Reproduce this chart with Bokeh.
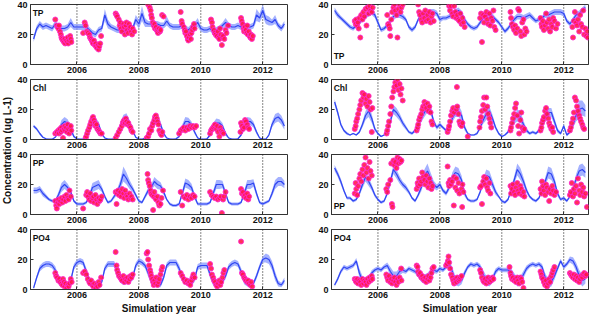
import math
from bokeh.plotting import figure
from bokeh.models import Range1d, FixedTicker, Span, Label
from bokeh.layouts import row, column
from bokeh.embed import file_html
from bokeh.resources import INLINE
from bokeh.core.properties import value

FONT = "Liberation Sans"

# ---------------- data ----------------
year_ticks = [2006, 2008, 2010, 2012]
y_ticks = [0, 20, 40]
panel_names = ["TP", "Chl", "PP", "PO4"]
y_label = "Concentration (ug L-1)"
x_label = "Simulation year"

# model time grid (decimal years, 2004.6 ... 2012.7)
t_model = [round(2004.6 + 0.1 * k, 1) for k in range(82)]

# ---- left column: model median and band half-width ----
tpL_med = [17, 24, 27, 25,
           26, 25, 24, 27, 25, 24, 24, 25, 28, 25,
           25, 25, 25, 25, 23, 21, 20, 23, 24, 33,
           27, 25, 24, 23, 23, 22, 23, 24, 24, 30,
           27, 34, 28, 27, 27, 27, 27, 26, 26, 29,
           26, 25, 25, 25, 26, 24, 23, 25, 26, 28,
           24, 23, 23, 24, 22, 23, 24, 26, 28, 26,
           25, 25, 26, 25, 26, 25, 25, 26, 33, 31,
           36, 30, 29, 28, 30, 26, 24, 27]
tpL_sd = [2, 2, 2, 2,
          2, 2, 2, 2, 2, 2, 2, 2, 3, 2,
          2, 2, 2, 2, 2, 2, 2, 2, 2, 4,
          3, 2, 2, 2, 2, 2, 2, 2, 2, 3,
          3, 5, 3, 2, 2, 2, 2, 2, 2, 3,
          2, 2, 2, 2, 2, 2, 2, 2, 2, 3,
          2, 2, 2, 2, 2, 2, 2, 2, 3, 2,
          2, 2, 2, 2, 2, 2, 2, 2, 4, 3,
          4, 3, 3, 2, 3, 2, 2, 2]

chlL_med = [9, 7, 4, 1.5,
            0.5, 0.2, 0.2, 1.5, 5, 10, 12, 11, 7, 2,
            0.5, 0.2, 0.2, 2, 6, 11, 12, 10, 4, 1,
            0.3, 0.2, 0.5, 3, 9, 14, 15, 11, 6, 1.5,
            0.3, 0.2, 1, 4, 10, 13, 13, 10, 4, 1,
            0.3, 0.2, 0.5, 2, 8, 12, 12, 10, 5, 1,
            0.3, 0.2, 0.5, 3, 9, 11, 11, 9, 4, 1,
            0.3, 0.2, 0.5, 3, 8, 12, 12, 10, 5, 1,
            0.3, 0.2, 3, 10, 14, 15, 13, 9]
chlL_sd = [1, 1, 1, 0.5,
           0.3, 0.2, 0.2, 0.5, 1.5, 3, 3, 2.5, 2, 1,
           0.3, 0.2, 0.2, 1, 2, 2.5, 2.5, 2, 1.5, 0.5,
           0.3, 0.2, 0.3, 1, 2, 2.5, 2.5, 2, 1.5, 0.5,
           0.3, 0.2, 0.5, 1, 2, 3, 3, 2, 1.5, 0.5,
           0.3, 0.2, 0.3, 1, 2, 3, 2.5, 2, 1.5, 0.5,
           0.3, 0.2, 0.3, 1, 2, 3, 2.5, 2, 1.5, 0.5,
           0.3, 0.2, 0.3, 1, 2, 3, 2.5, 2, 1.5, 0.5,
           0.3, 0.2, 1, 2, 3, 3, 3, 2.5]

ppL_med = [16, 16, 17, 14,
           12, 10, 9, 9, 13, 18, 20, 18, 15, 9,
           7, 7, 7, 8, 12, 18, 19, 20, 17, 12,
           8, 9, 12, 15, 20, 27, 24, 20, 17, 13,
           9, 8, 12, 16, 18, 22, 20, 19, 15, 10,
           7, 6, 6, 7, 14, 21, 20, 18, 12, 7,
           7, 7, 7, 8, 14, 20, 20, 20, 14, 8,
           7, 7, 7, 8, 14, 20, 20, 21, 14, 8,
           7, 8, 9, 14, 20, 22, 22, 20]
ppL_sd = [2, 2, 2, 2,
          1.5, 1, 1, 1, 2, 3, 3, 2.5, 2, 1,
          1, 1, 1, 1, 2, 3, 3, 3, 2, 1.5,
          1, 1, 1.5, 2, 3, 5, 4, 3, 2, 1.5,
          1, 1, 1.5, 2, 2, 3, 3, 2.5, 2, 1,
          1, 1, 1, 1, 2, 3, 3, 2.5, 2, 1,
          1, 1, 1, 1, 2, 3, 3, 2.5, 2, 1,
          1, 1, 1, 1, 2, 3, 3, 2.5, 2, 1,
          1, 1, 1, 2, 3, 3, 3, 2.5]

po4L_med = [1, 8, 14, 16,
            17, 17, 16, 13, 7, 4, 3, 3, 6, 15,
            18, 19, 18, 12, 6, 3, 2, 2, 5, 14,
            17, 17, 17, 12, 7, 5, 5, 6, 8, 16,
            19, 18, 16, 11, 6, 4, 3, 3, 8, 16,
            18, 18, 18, 14, 8, 5, 4, 4, 7, 15,
            16, 16, 16, 10, 5, 3, 3, 5, 9, 15,
            17, 18, 17, 12, 6, 4, 3, 4, 9, 15,
            20, 21, 20, 16, 9, 4, 3, 6]
po4L_sd = [1, 1.5, 2, 2,
           2, 2, 2, 2.5, 2.5, 2, 1.5, 1.5, 2, 2,
           2, 2, 2, 2.5, 2.5, 2, 1.5, 1.5, 2, 2,
           2, 2, 2, 2.5, 2.5, 2, 1.5, 1.5, 2, 2,
           2, 2, 2, 2.5, 2.5, 2, 1.5, 1.5, 2, 2,
           2, 2, 2, 2.5, 2.5, 2, 1.5, 1.5, 2, 2,
           2, 2, 2, 2.5, 2.5, 2, 1.5, 1.5, 2, 2,
           2, 2, 2, 2.5, 2.5, 2, 1.5, 1.5, 2, 2,
           2, 3, 3, 3, 3, 2, 1.5, 2]

# ---- right column: model median and band half-width ----
tpR_med = [36, 33, 31, 29,
           27, 25, 24, 26, 28, 30, 32, 34, 35, 33,
           28, 23, 24, 26, 29, 32, 33, 33, 32, 30,
           25, 23, 25, 30, 33, 33, 34, 35, 35, 34,
           30, 31, 31, 32, 33, 35, 36, 34, 30, 27,
           25, 24, 25, 28, 31, 33, 33, 32, 30, 28,
           25, 22, 24, 27, 30, 32, 32, 31, 32, 33,
           31, 29, 30, 31, 33, 33, 34, 35, 35, 35,
           34, 29, 27, 30, 33, 34, 36, 38]
tpR_sd = [2, 2, 1.5, 1.5,
          1.5, 1.5, 1.5, 1.5, 1.5, 1.5, 1.5, 2, 2, 2,
          2, 1.5, 1.5, 1.5, 1.5, 2, 2, 2, 2, 1.5,
          1.5, 1.5, 1.5, 1.5, 2, 2, 2, 2, 2, 2,
          2, 1.5, 1.5, 1.5, 2, 2, 2, 2, 1.5, 1.5,
          1.5, 1.5, 1.5, 1.5, 2, 2, 2, 2, 1.5, 1.5,
          1.5, 1.5, 1.5, 1.5, 2, 2, 2, 2, 2, 2,
          2, 1.5, 1.5, 1.5, 2, 2, 2, 2, 2, 2,
          2, 1.5, 1.5, 1.5, 2, 2, 2, 2]

chlR_med = [25, 18, 10, 6,
            4, 3, 4, 3, 5, 10, 16, 19, 14, 7,
            4, 2, 3, 6, 12, 20, 18, 15, 11, 8,
            5, 4, 6, 10, 14, 18, 21, 20, 12, 8,
            10, 8, 6, 8, 14, 18, 19, 16, 8, 4,
            3, 3, 4, 8, 13, 17, 19, 14, 8, 4,
            2, 3, 5, 9, 13, 16, 15, 10, 6, 4,
            5, 4, 6, 10, 14, 18, 18, 12, 6, 4,
            9, 3, 5, 10, 16, 20, 21, 19]
chlR_sd = [2, 2, 1.5, 1,
           1, 0.5, 0.5, 0.5, 1, 2, 3, 4, 3, 1.5,
           1, 0.5, 0.5, 1, 2, 3, 3, 2.5, 2, 1.5,
           1, 1, 1, 2, 2.5, 3, 3, 3, 2, 1.5,
           1.5, 1, 1, 1.5, 2.5, 3, 4, 3, 2, 1,
           0.5, 0.5, 1, 1.5, 2.5, 4, 3, 2.5, 1.5, 1,
           0.5, 0.5, 1, 1.5, 2.5, 4, 4, 2.5, 1.5, 1,
           1, 1, 1, 2, 2.5, 3, 3, 2.5, 1.5, 1,
           1.5, 1, 1, 2, 4, 6, 5, 4]

ppR_med = [31, 27, 22, 16,
           11, 11, 9, 10, 14, 20, 25, 22, 18, 13,
           10, 8, 9, 14, 22, 30, 27, 23, 20, 18,
           15, 11, 9, 13, 18, 26, 29, 24, 20, 18,
           20, 16, 14, 18, 25, 28, 27, 23, 14, 10,
           9, 9, 10, 15, 22, 26, 25, 20, 15, 12,
           9, 8, 10, 16, 23, 30, 27, 22, 16, 12,
           10, 9, 11, 16, 22, 28, 27, 22, 14, 10,
           11, 9, 12, 17, 24, 29, 30, 28]
ppR_sd = [2, 2, 2, 1.5,
          1, 1, 1, 1, 1.5, 2.5, 3, 3, 2, 1.5,
          1, 1, 1, 1.5, 2.5, 3, 3, 2.5, 2, 2,
          1.5, 1, 1, 1.5, 2.5, 4, 5, 4, 2.5, 2,
          2, 1.5, 1.5, 2, 3, 4, 4, 3, 2, 1,
          1, 1, 1, 1.5, 2.5, 4, 4, 3, 2, 1,
          1, 1, 1, 1.5, 2.5, 4, 4, 3, 2, 1,
          1, 1, 1, 1.5, 2.5, 4, 4, 3, 2, 1,
          1, 1, 1, 1.5, 3, 4, 4, 3.5]

po4R_med = [3, 7, 12, 15,
            14, 15, 16, 19, 11, 6, 5, 6, 11, 13,
            14, 13, 15, 16, 12, 9, 9, 12, 13, 12,
            14, 13, 12, 10, 8, 7, 8, 11, 13, 12,
            14, 13, 15, 17, 12, 6, 5, 6, 11, 15,
            17, 16, 17, 15, 10, 6, 5, 7, 12, 14,
            13, 13, 13, 12, 8, 5, 6, 10, 14, 16,
            17, 16, 17, 15, 8, 4, 5, 9, 14, 19,
            15, 17, 20, 19, 15, 9, 6, 7]
po4R_sd = [1, 1.5, 1.5, 1.5,
           1.5, 1.5, 1.5, 2, 3, 3, 3, 3, 2, 1.5,
           1.5, 1.5, 1.5, 2, 3, 3, 3, 2.5, 2, 1.5,
           1.5, 1.5, 1.5, 2, 3, 3, 3, 2.5, 2, 1.5,
           1.5, 1.5, 1.5, 2, 3, 3, 3, 2.5, 2, 1.5,
           1.5, 1.5, 1.5, 2, 3, 3, 3, 2.5, 2, 1.5,
           1.5, 1.5, 1.5, 2, 3, 3, 3, 2.5, 2, 1.5,
           1.5, 1.5, 1.5, 2, 3, 3, 3, 2.5, 2, 1.5,
           1.5, 1.5, 2, 2.5, 3, 4, 4, 3]

# ---- observations (decimal year, value) ----
tpL_obs = [(2005.30, 30), (2005.35, 26), (2005.38, 25), (2005.40, 24), (2005.42, 26), (2005.45, 22), (2005.48, 20),
           (2005.50, 18), (2005.52, 17), (2005.55, 16), (2005.58, 15), (2005.60, 17), (2005.62, 14), (2005.65, 16),
           (2005.68, 15), (2005.70, 18), (2005.72, 14), (2005.75, 16), (2005.78, 19), (2005.80, 17), (2005.82, 15),
           (2006.20, 21), (2006.25, 28), (2006.28, 26), (2006.32, 22), (2006.35, 21), (2006.40, 20), (2006.42, 18),
           (2006.45, 17), (2006.48, 16), (2006.50, 15), (2006.52, 14), (2006.55, 16), (2006.58, 13), (2006.60, 14),
           (2006.62, 12), (2006.65, 11), (2006.68, 13), (2006.70, 10), (2006.72, 12), (2006.75, 14), (2006.78, 19),
           (2007.25, 34), (2007.28, 33), (2007.30, 32), (2007.35, 30), (2007.38, 26), (2007.40, 28), (2007.42, 24),
           (2007.45, 22), (2007.50, 27), (2007.52, 25), (2007.55, 20), (2007.58, 26), (2007.60, 28), (2007.62, 23),
           (2007.65, 21), (2007.68, 27), (2007.70, 24), (2007.72, 25), (2007.75, 22), (2007.78, 20), (2007.80, 24),
           (2007.85, 22),
           (2008.30, 40), (2008.35, 38), (2008.38, 36), (2008.40, 33), (2008.42, 31), (2008.45, 28), (2008.48, 26),
           (2008.50, 27), (2008.52, 24), (2008.55, 25), (2008.58, 23), (2008.60, 22), (2008.62, 21), (2008.65, 24),
           (2008.68, 22), (2008.70, 23), (2008.75, 33), (2008.80, 32),
           (2009.35, 35), (2009.38, 29), (2009.40, 27), (2009.45, 25), (2009.48, 23), (2009.50, 21), (2009.52, 22),
           (2009.55, 19), (2009.58, 17), (2009.60, 16), (2009.62, 18), (2009.65, 20), (2009.68, 17), (2009.70, 21),
           (2009.72, 23), (2009.75, 25), (2009.78, 27), (2009.80, 24),
           (2010.33, 30), (2010.36, 28), (2010.38, 25), (2010.42, 23), (2010.45, 21), (2010.48, 20), (2010.52, 19),
           (2010.55, 22), (2010.58, 18), (2010.60, 17), (2010.62, 24), (2010.65, 20), (2010.68, 13), (2010.70, 18),
           (2010.72, 19), (2010.76, 17), (2010.80, 23), (2010.83, 21), (2010.88, 26),
           (2011.30, 31), (2011.32, 29), (2011.35, 27), (2011.38, 24), (2011.40, 22), (2011.42, 25), (2011.45, 23),
           (2011.48, 21), (2011.50, 26), (2011.52, 20), (2011.55, 22), (2011.58, 19), (2011.60, 18), (2011.62, 20),
           (2011.65, 17), (2011.68, 19)]

chlL_obs = [(2005.30, 4), (2005.35, 5), (2005.40, 6), (2005.42, 4), (2005.45, 7), (2005.48, 5), (2005.50, 8),
            (2005.52, 6), (2005.55, 1), (2005.58, 7), (2005.60, 9), (2005.62, 6), (2005.65, 8), (2005.68, 5),
            (2005.70, 10), (2005.72, 7), (2005.75, 4), (2005.78, 8), (2005.80, 9), (2005.82, 6),
            (2006.28, 1), (2006.30, 2), (2006.33, 4), (2006.36, 6), (2006.40, 8), (2006.43, 10), (2006.46, 12),
            (2006.50, 14), (2006.52, 15), (2006.55, 13), (2006.58, 11), (2006.60, 9), (2006.63, 10), (2006.66, 7),
            (2006.70, 6), (2006.73, 5), (2006.76, 4), (2006.80, 4),
            (2007.25, 1), (2007.30, 3), (2007.35, 5), (2007.40, 7), (2007.45, 9), (2007.48, 11), (2007.50, 12),
            (2007.53, 13), (2007.55, 11), (2007.58, 14), (2007.60, 12), (2007.63, 10), (2007.66, 11), (2007.70, 9),
            (2007.73, 8), (2007.76, 6), (2007.80, 5),
            (2008.25, 1), (2008.30, 2), (2008.33, 4), (2008.36, 7), (2008.40, 6), (2008.43, 9), (2008.46, 11),
            (2008.50, 13), (2008.52, 15), (2008.55, 16), (2008.58, 14), (2008.60, 12), (2008.63, 10), (2008.66, 6),
            (2008.70, 4), (2008.73, 3), (2008.76, 5),
            (2009.30, 4), (2009.35, 6), (2009.40, 7), (2009.45, 8), (2009.50, 6), (2009.55, 8), (2009.60, 7),
            (2009.65, 9), (2009.70, 8), (2009.75, 9), (2009.80, 8), (2009.85, 9),
            (2010.30, 4), (2010.33, 6), (2010.36, 7), (2010.40, 8), (2010.43, 9), (2010.46, 10), (2010.50, 7),
            (2010.53, 9), (2010.56, 5), (2010.60, 2), (2010.63, 8), (2010.66, 6), (2010.70, 5), (2010.73, 4),
            (2011.28, 5), (2011.30, 11), (2011.33, 9), (2011.36, 7), (2011.40, 8), (2011.43, 13), (2011.46, 12),
            (2011.50, 10), (2011.53, 8), (2011.56, 7)]

ppL_obs = [(2005.30, 9), (2005.33, 6), (2005.35, 4), (2005.38, 8), (2005.40, 10), (2005.43, 7), (2005.46, 9),
           (2005.50, 11), (2005.53, 8), (2005.56, 10), (2005.60, 12), (2005.63, 9), (2005.66, 13), (2005.70, 11),
           (2005.73, 10), (2005.76, 16), (2005.80, 12),
           (2006.20, 4), (2006.30, 13), (2006.33, 15), (2006.36, 12), (2006.40, 10), (2006.43, 14), (2006.46, 9),
           (2006.50, 11), (2006.53, 12), (2006.56, 8), (2006.60, 13), (2006.63, 10), (2006.66, 7), (2006.70, 11),
           (2006.73, 9), (2006.76, 10), (2006.80, 12),
           (2007.25, 15), (2007.28, 7), (2007.30, 14), (2007.33, 16), (2007.36, 13), (2007.40, 15), (2007.43, 12),
           (2007.46, 17), (2007.50, 14), (2007.53, 11), (2007.56, 16), (2007.60, 13), (2007.63, 12), (2007.66, 10),
           (2007.70, 14), (2007.73, 11), (2007.76, 12), (2007.80, 10),
           (2008.28, 27), (2008.30, 23), (2008.32, 21), (2008.35, 19), (2008.38, 16), (2008.40, 14), (2008.43, 13),
           (2008.46, 3), (2008.48, 12), (2008.50, 15), (2008.53, 11), (2008.56, 10), (2008.60, 12), (2008.63, 8),
           (2008.66, 6), (2008.70, 7), (2008.73, 11), (2008.78, 16),
           (2009.35, 15), (2009.40, 6), (2009.45, 12), (2009.50, 11), (2009.55, 13), (2009.60, 10), (2009.65, 12),
           (2009.70, 11), (2009.75, 13), (2009.80, 12),
           (2010.30, 15), (2010.35, 13), (2010.40, 12), (2010.45, 11), (2010.50, 12), (2010.55, 10), (2010.60, 11),
           (2010.65, 12), (2010.68, 1), (2010.72, 10), (2010.75, 12), (2010.80, 15),
           (2011.30, 17), (2011.33, 14), (2011.36, 15), (2011.40, 12), (2011.43, 13), (2011.46, 11), (2011.50, 14),
           (2011.53, 10), (2011.56, 12)]

po4L_obs = [(2005.30, 11), (2005.33, 9), (2005.36, 8), (2005.40, 6), (2005.43, 7), (2005.46, 5), (2005.50, 4),
            (2005.53, 3), (2005.55, 7), (2005.58, 5), (2005.60, 2), (2005.63, 4), (2005.66, 1), (2005.70, 3),
            (2005.73, 2), (2005.76, 4), (2005.80, 7), (2005.83, 5),
            (2006.20, 11), (2006.25, 12), (2006.30, 10), (2006.35, 7), (2006.40, 5), (2006.43, 4), (2006.46, 6),
            (2006.50, 3), (2006.53, 2), (2006.56, 4), (2006.60, 1), (2006.63, 3), (2006.66, 2), (2006.70, 5),
            (2006.73, 3), (2006.78, 8),
            (2007.25, 25), (2007.28, 16), (2007.30, 13), (2007.33, 11), (2007.36, 9), (2007.40, 8), (2007.43, 7),
            (2007.46, 6), (2007.50, 9), (2007.53, 5), (2007.56, 7), (2007.60, 6), (2007.63, 8), (2007.66, 5),
            (2007.70, 7), (2007.73, 9), (2007.76, 8), (2007.80, 10),
            (2008.25, 24), (2008.28, 25), (2008.30, 20), (2008.33, 16), (2008.36, 13), (2008.38, 11), (2008.40, 9),
            (2008.43, 7), (2008.46, 5), (2008.48, 3), (2008.50, 6), (2008.53, 4), (2008.56, 8), (2008.60, 3),
            (2008.63, 5), (2008.66, 7), (2008.70, 10), (2008.73, 13), (2008.76, 15),
            (2009.35, 11), (2009.40, 9), (2009.45, 7), (2009.50, 5), (2009.55, 6), (2009.60, 4), (2009.63, 5),
            (2009.66, 3), (2009.70, 6), (2009.73, 8), (2009.76, 10), (2009.80, 8),
            (2010.30, 17), (2010.33, 14), (2010.36, 10), (2010.40, 8), (2010.43, 6), (2010.46, 5), (2010.50, 3),
            (2010.53, 2), (2010.56, 4), (2010.60, 6), (2010.63, 3), (2010.66, 5), (2010.70, 8), (2010.73, 11),
            (2010.76, 13),
            (2011.30, 32), (2011.33, 11), (2011.36, 10), (2011.40, 8), (2011.43, 7), (2011.46, 6), (2011.50, 5),
            (2011.53, 6), (2011.56, 4), (2011.60, 3), (2011.63, 5), (2011.66, 2)]

tpR_obs = [(2005.25, 29), (2005.28, 27), (2005.30, 30), (2005.33, 26), (2005.35, 28), (2005.38, 24), (2005.40, 31),
           (2005.43, 18), (2005.46, 33), (2005.50, 30), (2005.53, 35), (2005.56, 32), (2005.60, 37), (2005.63, 26),
           (2005.66, 38), (2005.70, 34), (2005.73, 39), (2005.76, 36), (2005.80, 35), (2005.83, 38),
           (2006.30, 33), (2006.33, 27), (2006.35, 26), (2006.38, 24), (2006.40, 19), (2006.43, 30), (2006.46, 35),
           (2006.50, 38), (2006.53, 40), (2006.56, 36), (2006.60, 33), (2006.63, 18), (2006.66, 37), (2006.70, 40),
           (2006.73, 35), (2006.76, 38), (2006.80, 40),
           (2007.30, 40), (2007.33, 35), (2007.36, 33), (2007.40, 30), (2007.43, 28), (2007.46, 34), (2007.50, 31),
           (2007.53, 36), (2007.56, 29), (2007.60, 33), (2007.63, 30), (2007.66, 35), (2007.70, 28), (2007.73, 32),
           (2007.76, 34), (2007.80, 29),
           (2008.30, 39), (2008.33, 36), (2008.36, 39), (2008.40, 34), (2008.43, 32), (2008.46, 39), (2008.50, 35),
           (2008.53, 31), (2008.56, 33), (2008.60, 30), (2008.63, 29), (2008.66, 34), (2008.70, 27), (2008.73, 31),
           (2008.76, 28), (2008.80, 25),
           (2009.30, 31), (2009.33, 34), (2009.36, 15), (2009.40, 33), (2009.43, 28), (2009.46, 32), (2009.50, 35),
           (2009.53, 30), (2009.56, 27), (2009.60, 34), (2009.63, 26), (2009.66, 31), (2009.70, 29), (2009.73, 36),
           (2009.76, 25), (2009.80, 23),
           (2010.28, 35), (2010.30, 31), (2010.33, 27), (2010.36, 25), (2010.40, 23), (2010.43, 26), (2010.46, 21),
           (2010.50, 24), (2010.53, 37), (2010.56, 36), (2010.60, 22), (2010.63, 19), (2010.66, 28), (2010.70, 30),
           (2010.73, 20), (2010.76, 24), (2010.80, 22),
           (2011.25, 31), (2011.28, 27), (2011.30, 25), (2011.33, 29), (2011.36, 23), (2011.40, 26), (2011.43, 34),
           (2011.46, 28), (2011.50, 24), (2011.53, 30), (2011.56, 22), (2011.60, 27), (2011.63, 25), (2011.66, 31),
           (2011.70, 29), (2011.75, 24), (2011.80, 27),
           (2012.28, 25), (2012.30, 18), (2012.33, 29), (2012.36, 35), (2012.40, 28), (2012.43, 26), (2012.46, 30),
           (2012.50, 22), (2012.53, 33), (2012.56, 27), (2012.60, 25), (2012.63, 36), (2012.66, 20), (2012.70, 24),
           (2012.73, 19), (2012.76, 22), (2012.78, 18)]

chlR_obs = [(2005.25, 7), (2005.28, 9), (2005.30, 12), (2005.33, 14), (2005.36, 17), (2005.40, 20), (2005.43, 23),
            (2005.46, 26), (2005.50, 31), (2005.53, 28), (2005.56, 30), (2005.60, 24), (2005.63, 27), (2005.66, 22),
            (2005.70, 29), (2005.73, 25), (2005.76, 20), (2005.80, 5), (2005.82, 21),
            (2006.28, 4), (2006.30, 6), (2006.33, 9), (2006.36, 12), (2006.40, 17), (2006.43, 22), (2006.46, 28),
            (2006.50, 32), (2006.53, 35), (2006.56, 38), (2006.60, 36), (2006.63, 40), (2006.66, 33), (2006.70, 37),
            (2006.73, 30), (2006.76, 34), (2006.80, 26),
            (2007.25, 6), (2007.28, 8), (2007.30, 10), (2007.33, 13), (2007.36, 15), (2007.40, 17), (2007.43, 20),
            (2007.46, 22), (2007.50, 25), (2007.53, 23), (2007.56, 21), (2007.60, 24), (2007.63, 19), (2007.66, 22),
            (2007.70, 18), (2007.73, 12), (2007.76, 10),
            (2008.25, 5), (2008.28, 7), (2008.30, 9), (2008.33, 12), (2008.36, 16), (2008.40, 19), (2008.43, 21),
            (2008.46, 18), (2008.55, 35), (2008.53, 20), (2008.56, 22), (2008.60, 17), (2008.63, 12), (2008.66, 10),
            (2008.70, 9), (2008.73, 11), (2008.90, 2),
            (2009.28, 8), (2009.30, 12), (2009.33, 15), (2009.36, 19), (2009.40, 23), (2009.43, 28), (2009.46, 20),
            (2009.50, 28), (2009.53, 22), (2009.56, 17), (2009.60, 14), (2009.63, 11), (2009.66, 8),
            (2010.28, 6), (2010.30, 8), (2010.33, 11), (2010.36, 14), (2010.40, 17), (2010.43, 21), (2010.46, 24),
            (2010.50, 16), (2010.53, 9), (2010.56, 4), (2010.60, 13), (2010.63, 18), (2010.66, 8), (2010.70, 6),
            (2010.73, 7),
            (2011.25, 6), (2011.28, 8), (2011.30, 11), (2011.33, 13), (2011.36, 15), (2011.40, 19), (2011.43, 21),
            (2011.46, 17), (2011.50, 14), (2011.53, 11), (2011.56, 9), (2011.60, 7), (2011.63, 8), (2011.66, 5),
            (2012.20, 6), (2012.23, 8), (2012.26, 11), (2012.30, 14), (2012.33, 18), (2012.36, 28), (2012.40, 26),
            (2012.43, 22), (2012.46, 19), (2012.50, 16), (2012.53, 14), (2012.56, 12), (2012.60, 10), (2012.63, 8),
            (2012.66, 7)]

ppR_obs = [(2005.25, 14), (2005.28, 21), (2005.30, 17), (2005.33, 13), (2005.36, 19), (2005.40, 24), (2005.43, 27),
           (2005.46, 22), (2005.50, 30), (2005.53, 26), (2005.56, 33), (2005.60, 38), (2005.63, 28), (2005.66, 31),
           (2005.70, 24), (2005.73, 35), (2005.76, 29), (2005.80, 26),
           (2006.27, 17), (2006.30, 15), (2006.33, 20), (2006.45, 7), (2006.47, 5), (2006.40, 23), (2006.43, 34),
           (2006.50, 36), (2006.53, 33), (2006.56, 35), (2006.60, 31), (2006.63, 38), (2006.66, 34), (2006.70, 37),
           (2006.73, 35), (2006.76, 36),
           (2007.25, 17), (2007.28, 21), (2007.30, 19), (2007.33, 24), (2007.36, 20), (2007.40, 22), (2007.43, 28),
           (2007.46, 25), (2007.50, 23), (2007.53, 20), (2007.56, 26), (2007.60, 22), (2007.63, 18), (2007.66, 24),
           (2007.70, 21), (2007.73, 17), (2007.76, 19),
           (2008.25, 32), (2008.28, 21), (2008.30, 19), (2008.33, 23), (2008.36, 20), (2008.40, 22), (2008.45, 6),
           (2008.46, 25), (2008.50, 18), (2008.53, 24), (2008.56, 16), (2008.60, 21), (2008.63, 14), (2008.72, 5),
           (2008.70, 17), (2008.73, 20), (2008.76, 15),
           (2009.30, 18), (2009.36, 7), (2009.33, 19), (2009.40, 22), (2009.43, 25), (2009.46, 20), (2009.50, 24),
           (2009.53, 18), (2009.56, 16), (2009.60, 21), (2009.63, 14),
           (2010.28, 19), (2010.30, 14), (2010.33, 17), (2010.36, 20), (2010.40, 15), (2010.43, 13), (2010.46, 18),
           (2010.50, 21), (2010.53, 16), (2010.56, 14), (2010.60, 19), (2010.63, 17), (2010.66, 13), (2010.70, 15),
           (2010.73, 12),
           (2011.25, 17), (2011.28, 14), (2011.30, 22), (2011.33, 19), (2011.36, 16), (2011.40, 13), (2011.43, 20),
           (2011.46, 18), (2011.50, 15), (2011.53, 9), (2011.56, 17), (2011.60, 14), (2011.63, 19), (2011.66, 16),
           (2011.70, 13), (2011.75, 15),
           (2012.20, 13), (2012.23, 15), (2012.26, 21), (2012.30, 12), (2012.33, 17), (2012.36, 14), (2012.40, 19),
           (2012.43, 8), (2012.46, 24), (2012.50, 16), (2012.53, 13), (2012.56, 20), (2012.60, 15), (2012.63, 18),
           (2012.66, 12), (2012.70, 14), (2012.75, 5)]

po4R_obs = [(2005.25, 7), (2005.28, 6), (2005.30, 5), (2005.33, 7), (2005.36, 4), (2005.40, 6), (2005.43, 5),
            (2005.46, 3), (2005.50, 7), (2005.53, 4), (2005.56, 6), (2005.60, 5), (2005.63, 3), (2005.66, 7),
            (2005.70, 5), (2005.73, 8), (2005.76, 6), (2005.80, 9), (2005.82, 7),
            (2006.27, 10), (2006.30, 8), (2006.33, 6), (2006.36, 9), (2006.40, 5), (2006.43, 7), (2006.46, 4),
            (2006.50, 6), (2006.53, 8), (2006.56, 5), (2006.60, 3), (2006.63, 7), (2006.66, 5), (2006.70, 8),
            (2006.75, 14), (2006.76, 6),
            (2007.25, 16), (2007.28, 15), (2007.30, 12), (2007.33, 10), (2007.36, 11), (2007.40, 8), (2007.43, 9),
            (2007.46, 7), (2007.50, 6), (2007.53, 8), (2007.56, 5), (2007.60, 7), (2007.63, 9), (2007.66, 6),
            (2007.70, 8), (2007.73, 11), (2007.76, 14), (2007.80, 15),
            (2008.20, 16), (2008.23, 17), (2008.26, 19), (2008.28, 22), (2008.30, 18), (2008.33, 14), (2008.36, 10),
            (2008.40, 8), (2008.43, 6), (2008.46, 4), (2008.50, 7), (2008.53, 5), (2008.56, 8), (2008.60, 6),
            (2008.63, 7), (2008.66, 8), (2008.70, 9),
            (2009.30, 13), (2009.33, 11), (2009.36, 8), (2009.40, 6), (2009.43, 5), (2009.46, 7), (2009.50, 4),
            (2009.53, 6), (2009.56, 8), (2009.60, 5), (2009.63, 7), (2009.66, 6), (2009.70, 8), (2009.73, 7),
            (2010.25, 15), (2010.28, 11), (2010.30, 9), (2010.33, 7), (2010.36, 8), (2010.40, 6), (2010.43, 7),
            (2010.46, 5), (2010.50, 8), (2010.53, 6), (2010.56, 4), (2010.60, 8), (2010.63, 7), (2010.70, 1),
            (2010.66, 5),
            (2011.25, 12), (2011.28, 10), (2011.30, 8), (2011.33, 7), (2011.36, 5), (2011.40, 3), (2011.43, 6),
            (2011.46, 2), (2011.50, 4), (2011.53, 7), (2011.56, 5), (2011.60, 9), (2011.63, 11), (2011.66, 13),
            (2011.70, 15),
            (2012.20, 11), (2012.23, 10), (2012.26, 9), (2012.30, 8), (2012.33, 10), (2012.36, 7), (2012.40, 9),
            (2012.43, 6), (2012.46, 8), (2012.50, 5), (2012.53, 7), (2012.56, 9), (2012.60, 8), (2012.63, 10),
            (2012.66, 11), (2012.70, 9), (2012.73, 10)]

left_series = [(tpL_med, tpL_sd, tpL_obs), (chlL_med, chlL_sd, chlL_obs),
               (ppL_med, ppL_sd, ppL_obs), (po4L_med, po4L_sd, po4L_obs)]
right_series = [(tpR_med, tpR_sd, tpR_obs), (chlR_med, chlR_sd, chlR_obs),
                (ppR_med, ppR_sd, ppR_obs), (po4R_med, po4R_sd, po4R_obs)]
# where the panel name sits: "top" or "bottom" left corner
left_label_pos = ["top", "top", "top", "top"]
right_label_pos = ["bottom", "top", "bottom", "top"]

# ---------------- styling ----------------
LINE_C = "#2f45f2"
BAND_C = "#7d90ff"
OBS_FILL = "#ff1a48"
OBS_LINE = "#ff2ad0"
FRAME_C = "#333333"
X0, X1 = 2004.5, 2012.8
FH = 60
FW = 257


def make_panel(series, name, pos, col, is_bottom):
    med, sd, obs = series
    n = min(len(t_model), len(med), len(sd))
    t = t_model[:n]
    lo = [m - s for m, s in zip(med[:n], sd[:n])]
    hi = [m + s for m, s in zip(med[:n], sd[:n])]
    p = figure(frame_width=FW, frame_height=FH,
               x_range=Range1d(X0, X1), y_range=Range1d(0, 40),
               output_backend="svg", toolbar_location=None,
               min_border_left=15, min_border_right=28 if col == 0 else 2,
               min_border_top=4, min_border_bottom=0)
    p.background_fill_color = "white"
    p.border_fill_color = "white"
    p.outline_line_color = FRAME_C
    p.outline_line_width = 1
    p.xgrid.visible = False
    p.ygrid.visible = False

    for yr in year_ticks:
        p.add_layout(Span(location=yr, dimension="height", line_color="#111111",
                          line_dash="1 2", line_width=1, level="underlay"))

    p.varea(x=t, y1=lo, y2=hi, fill_color=BAND_C, fill_alpha=0.7)
    p.line(t, med[:n], line_color=LINE_C, line_width=1.2)
    ot = [o[0] for o in obs]
    ov = [o[1] for o in obs]
    p.scatter(ot, ov, marker="circle", size=5, fill_color=OBS_FILL, fill_alpha=0.9,
              line_color=OBS_LINE, line_width=0.9)

    ly = 34.3 if pos == "top" else 5.5
    p.add_layout(Label(x=2004.57, y=ly, text=name, text_font=FONT, text_font_size="8.5px",
                       text_font_style="bold", text_color="#111111", text_baseline="middle",
                       text_align="left"))

    p.xaxis.ticker = FixedTicker(ticks=year_ticks)
    p.yaxis.ticker = FixedTicker(ticks=y_ticks)
    for ax in (p.xaxis[0], p.yaxis[0]):
        ax.major_tick_in = 3
        ax.major_tick_out = 0
        ax.minor_tick_in = 0
        ax.minor_tick_out = 0
        ax.axis_line_color = FRAME_C
        ax.major_tick_line_color = FRAME_C
        ax.major_label_text_font = FONT
        ax.major_label_text_font_size = "9px"
        ax.major_label_text_font_style = "bold"
        ax.major_label_text_color = "#111111"
    p.xaxis.major_label_standoff = 2
    p.yaxis.major_label_standoff = 3
    if is_bottom:
        p.xaxis.axis_label = x_label
        p.xaxis.axis_label_text_font = FONT
        p.xaxis.axis_label_text_font_size = "10px"
        p.xaxis.axis_label_text_font_style = "bold"
        p.xaxis.axis_label_text_color = "#111111"
        p.xaxis.axis_label_standoff = 2
    return p


left_figs = [make_panel(left_series[i], panel_names[i], left_label_pos[i], 0, i == 3) for i in range(4)]
right_figs = [make_panel(right_series[i], panel_names[i], right_label_pos[i], 1, i == 3) for i in range(4)]

lab = figure(width=14, height=300, x_range=Range1d(0, 1), y_range=Range1d(0, 1),
             output_backend="svg", toolbar_location=None,
             min_border_left=0, min_border_right=0, min_border_top=0, min_border_bottom=0)
lab.axis.visible = False
lab.xgrid.visible = False
lab.ygrid.visible = False
lab.outline_line_color = None
lab.background_fill_color = "white"
lab.border_fill_color = "white"
lab.text(x=[0.5], y=[0.5], text=[y_label], angle=math.pi / 2, text_align="center",
         text_baseline="middle", text_font=value(FONT), text_font_size="10px",
         text_font_style="bold", text_color="#111111")

layout = row(lab, column(*left_figs), column(*right_figs))

open("out.html", "w").write(file_html(layout, INLINE))
